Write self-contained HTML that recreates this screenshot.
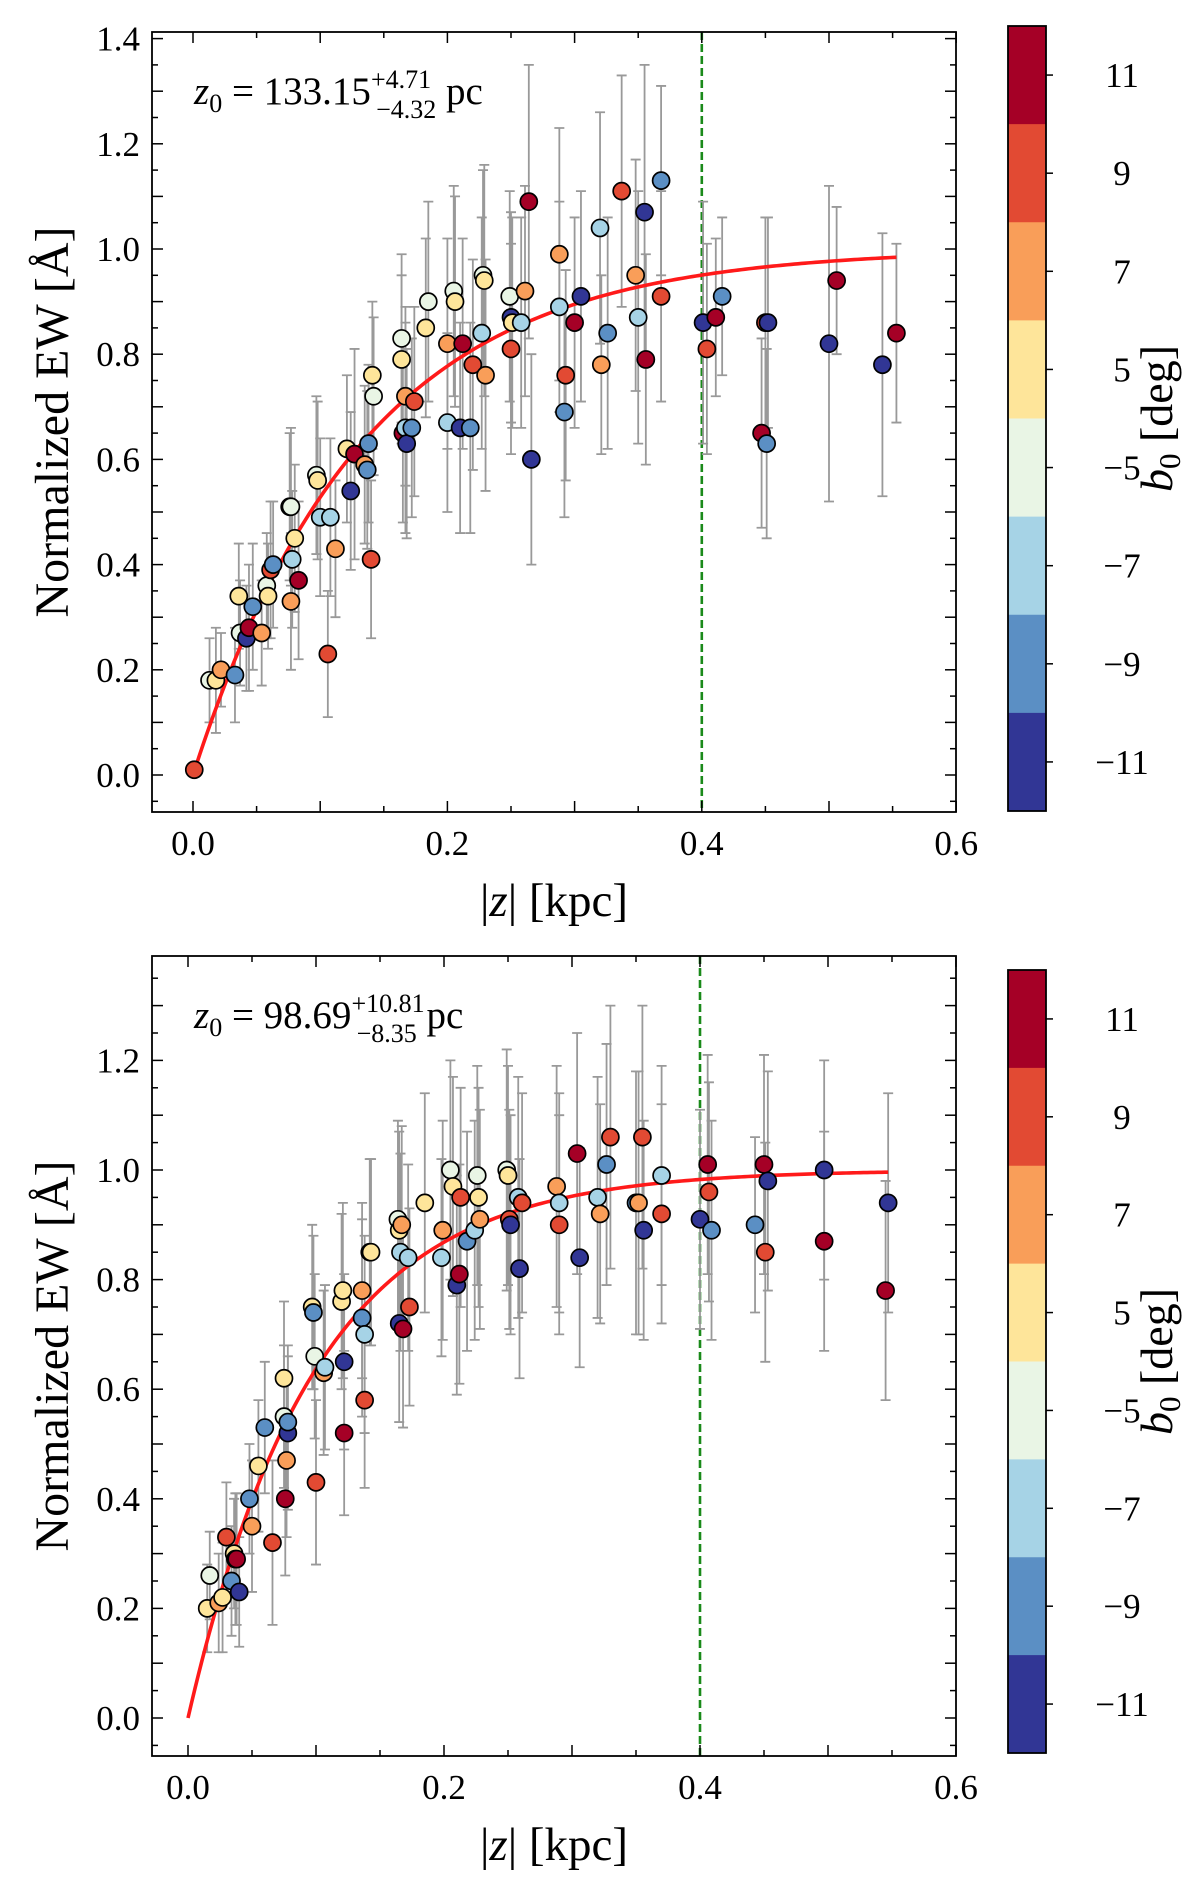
<!DOCTYPE html>
<html><head><meta charset="utf-8">
<style>
html,body{margin:0;padding:0;background:#fff;}
svg{display:block;font-family:"Liberation Serif",serif;}
</style></head>
<body>
<svg id="fig" width="1200" height="1877" viewBox="0 0 1200 1877" xmlns="http://www.w3.org/2000/svg"></svg>
<script>
// ---- data ----
const bLevels = [11, 9, 7, 5, -5, -7, -9, -11];
const bColors = ["#a50026", "#e24a33", "#f99e59", "#fee59a", "#e9f5e5", "#a6d3e6", "#5b8fc4", "#313695"];
const xTicks = [0.0, 0.2, 0.4, 0.6];
const yTicksTop = [0.0, 0.2, 0.4, 0.6, 0.8, 1.0, 1.2, 1.4];
const yTicksBot = [0.0, 0.2, 0.4, 0.6, 0.8, 1.0, 1.2];
const fitTop = {A: 1.0, z0: 0.13315, zmax: 0.553};
const fitBot = {A: 1.0, z0: 0.09869, zmax: 0.547};
const cutZ = 0.4;
// top panel: z, ew, err, b
const zTop   = [0.001,0.013,0.018,0.022,0.033,0.036,0.037,0.042,0.044,0.047,0.054,0.058,0.059,0.061,0.063,0.076,0.077,0.077,0.078,0.08,0.083,0.097,0.098,0.1,0.108,0.106,0.112,0.121,0.124,0.127,0.135,0.137,0.138,0.14,0.141,0.142,0.164,0.164,0.165,0.167,0.167,0.168,0.172,0.174,0.183,0.185,0.2,0.2,0.205,0.206,0.21,0.212,0.218,0.22,0.227,0.228,0.229,0.23,0.249,0.25,0.25,0.251,0.258,0.261,0.264,0.266,0.288,0.288,0.292,0.293,0.3,0.305,0.32,0.321,0.326,0.337,0.348,0.35,0.355,0.356,0.368,0.368,0.401,0.404,0.411,0.416,0.447,0.45,0.451,0.452,0.5,0.506,0.542,0.553];
const ewTop  = [0.01,0.18,0.18,0.20,0.19,0.34,0.27,0.26,0.28,0.32,0.27,0.36,0.34,0.39,0.40,0.51,0.51,0.33,0.41,0.45,0.37,0.57,0.56,0.49,0.49,0.23,0.43,0.62,0.54,0.61,0.59,0.58,0.63,0.41,0.76,0.72,0.83,0.79,0.65,0.72,0.66,0.63,0.66,0.71,0.85,0.90,0.67,0.82,0.92,0.90,0.66,0.82,0.66,0.78,0.84,0.95,0.94,0.76,0.91,0.87,0.81,0.86,0.86,0.92,1.09,0.60,0.99,0.89,0.69,0.76,0.86,0.91,1.04,0.78,0.84,1.11,0.95,0.87,1.07,0.79,1.13,0.91,0.86,0.81,0.87,0.91,0.65,0.86,0.63,0.86,0.82,0.94,0.78,0.84];
const errTop = [0,0.08,0.1,0.07,0.09,0.1,0.1,0.1,0.12,0.12,0.1,0.1,0.1,0.13,0.12,0.14,0.15,0.13,0.13,0.14,0.15,0.15,0.15,0.15,0.15,0.12,0.13,0.14,0.15,0.2,0.15,0.15,0.15,0.15,0.14,0.15,0.16,0.16,0.17,0.17,0.2,0.18,0.17,0.18,0.17,0.19,0.17,0.2,0.2,0.2,0.2,0.2,0.2,0.2,0.22,0.2,0.22,0.22,0.2,0.2,0.2,0.2,0.2,0.2,0.26,0.2,0.24,0.2,0.2,0.2,0.2,0.2,0.22,0.17,0.22,0.22,0.22,0.24,0.28,0.2,0.18,0.2,0.23,0.2,0.15,0.15,0.18,0.2,0.18,0.2,0.3,0.14,0.25,0.17];
const bTop   = [9,-5,5,7,-9,5,-5,-11,11,-9,7,-5,5,9,-9,-5,-5,7,-7,5,11,-5,5,-7,-7,9,7,5,-11,11,7,-9,-9,9,5,-5,-5,5,11,7,-7,-11,-9,9,5,-5,-7,7,-5,5,-11,11,-9,9,-7,-5,5,7,-5,-11,9,5,-7,7,11,-11,7,-7,-9,9,11,-11,-7,7,-9,9,7,-7,-11,11,-9,9,-11,9,11,-9,11,9,-9,-11,-11,11,-11,11];
// bottom panel
const zBot   = [0.015,0.017,0.024,0.027,0.03,0.034,0.036,0.037,0.038,0.04,0.048,0.05,0.055,0.06,0.066,0.075,0.075,0.076,0.077,0.078,0.078,0.097,0.098,0.099,0.1,0.106,0.107,0.12,0.121,0.122,0.122,0.136,0.136,0.138,0.138,0.142,0.143,0.164,0.165,0.165,0.166,0.167,0.168,0.172,0.173,0.185,0.198,0.199,0.205,0.207,0.21,0.212,0.213,0.218,0.224,0.226,0.227,0.228,0.249,0.25,0.251,0.252,0.258,0.259,0.261,0.288,0.29,0.29,0.304,0.306,0.32,0.322,0.327,0.33,0.35,0.352,0.355,0.356,0.37,0.37,0.4,0.406,0.407,0.409,0.443,0.45,0.451,0.453,0.497,0.497,0.545,0.547];
const ewBot  = [0.20,0.26,0.21,0.22,0.33,0.25,0.30,0.29,0.29,0.23,0.40,0.35,0.46,0.53,0.32,0.62,0.55,0.40,0.47,0.52,0.54,0.75,0.74,0.66,0.43,0.63,0.64,0.76,0.78,0.65,0.52,0.78,0.73,0.70,0.58,0.85,0.85,0.91,0.89,0.72,0.85,0.90,0.71,0.84,0.75,0.94,0.84,0.89,1.0,0.97,0.79,0.81,0.95,0.87,0.89,0.99,0.95,0.91,1.0,0.99,0.91,0.90,0.95,0.82,0.94,0.97,0.94,0.90,1.03,0.84,0.95,0.92,1.01,1.06,0.94,0.94,1.06,0.89,0.99,0.92,0.91,1.01,0.96,0.89,0.90,1.01,0.85,0.98,1.0,0.87,0.78,0.94];
const errBot = [0.08,0.08,0.09,0.1,0.1,0.1,0.1,0.12,0.12,0.1,0.1,0.12,0.12,0.12,0.15,0.14,0.13,0.14,0.14,0.14,0.14,0.15,0.14,0.15,0.15,0.15,0.15,0.16,0.16,0.16,0.15,0.16,0.18,0.18,0.16,0.17,0.17,0.18,0.18,0.18,0.18,0.18,0.18,0.17,0.18,0.2,0.18,0.2,0.2,0.2,0.2,0.2,0.2,0.2,0.2,0.2,0.2,0.2,0.22,0.2,0.2,0.2,0.22,0.2,0.2,0.22,0.2,0.2,0.22,0.2,0.22,0.2,0.22,0.24,0.24,0.24,0.24,0.2,0.2,0.2,0.2,0.2,0.2,0.2,0.16,0.2,0.2,0.2,0.2,0.2,0.2,0.2];
const bBot   = [5,-5,7,5,9,-9,5,-5,11,-11,-9,7,5,-9,9,5,-5,11,7,-11,-9,5,-9,-5,9,7,-7,5,5,-11,11,7,-9,-7,9,-5,5,-5,5,-11,-7,7,11,-7,9,5,-7,7,-5,5,-11,11,9,-9,-7,-5,5,7,-5,5,9,-11,-7,-11,9,7,-7,9,11,-11,-7,7,-9,9,-9,7,9,-11,-7,9,-11,11,9,-9,-9,11,9,-11,-11,11,11,-11];

const NS = "http://www.w3.org/2000/svg";
const svg = document.getElementById("fig");
function mk(tag, attrs, parent) {
  const e = document.createElementNS(NS, tag);
  for (const k in attrs) e.setAttribute(k, attrs[k]);
  (parent || svg).appendChild(e);
  return e;
}
function colorFor(b) { return bColors[bLevels.indexOf(b)]; }

function panel(cfg) {
  const g = mk("g", {});
  
  
  const L = 152, R = 956, T = cfg.top, B = cfg.bottom;
  const X = v => cfg.x0 + v / 0.2 * cfg.xs;
  const Y = v => cfg.y0 - v / 0.2 * cfg.ys;
  const cid = cfg.name + "-clip";
  const defs = mk("defs", {}, g);
  const cp = mk("clipPath", {id: cid}, defs);
  mk("rect", {x: L, y: T, width: R - L, height: B - T}, cp);
  const plot = mk("g", {"clip-path": "url(#" + cid + ")"}, g);
  const dl = mk("line", {x1: X(cutZ), x2: X(cutZ), y1: T, y2: B, stroke: "#1a8a1a", "stroke-width": 2.6, "stroke-dasharray": "8,4"}, plot);
  
  
  for (let i = 0; i < cfg.z.length; i++) {
    if (cfg.err[i] <= 0) continue;
    const x = X(cfg.z[i]), y1 = Y(cfg.ew[i] - cfg.err[i]), y2 = Y(cfg.ew[i] + cfg.err[i]);
    const eb = mk("path", {d: `M${x},${y1}V${y2}M${x-5},${y1}H${x+5}M${x-5},${y2}H${x+5}`, stroke: "#999", "stroke-width": 1.8, fill: "none"}, plot);
    
    
  }
  let d = "";
  for (let k = 0; k <= 200; k++) {
    const z = cfg.fit.zmax * k / 200;
    const v = cfg.fit.A * (1 - Math.exp(-z / cfg.fit.z0));
    d += (k ? "L" : "M") + X(z).toFixed(2) + "," + Y(v).toFixed(2);
  }
  const fc = mk("path", {d: d, stroke: "#ff1a1a", "stroke-width": 3.6, fill: "none"}, plot);
  
  
  for (let i = 0; i < cfg.z.length; i++) {
    const c = mk("circle", {cx: X(cfg.z[i]), cy: Y(cfg.ew[i]), r: 8.5, fill: colorFor(cfg.b[i]), stroke: "#000", "stroke-width": 1.7}, plot);
    
    
  }
  const fr = mk("rect", {x: L, y: T, width: R - L, height: B - T, fill: "none", stroke: "#000", "stroke-width": 1.8}, g);
  
  
  for (let v = 0; v <= 0.6001; v += 0.05) {
    const x = X(v), major = Math.abs(v * 10 - Math.round(v * 10)) < 1e-6;
    const len = major ? 11 : 6;
    mk("line", {x1: x, x2: x, y1: B, y2: B - len, stroke: "#000", "stroke-width": 1.5}, g);
    mk("line", {x1: x, x2: x, y1: T, y2: T + len, stroke: "#000", "stroke-width": 1.5}, g);
  }
  for (const v of xTicks) {
    const t = mk("text", {x: X(v), y: B + 43, "font-size": 35, "text-anchor": "middle"}, g);
    t.textContent = v.toFixed(1);
    
    
  }
  for (let v = -0.1; v <= 1.45; v += 0.05) {
    const y = Y(v);
    if (y < T || y > B) continue;
    const major = Math.abs(v * 10 - Math.round(v * 10)) < 1e-6;
    const len = major ? 11 : 6;
    mk("line", {x1: L, x2: L + len, y1: y, y2: y, stroke: "#000", "stroke-width": 1.5}, g);
    mk("line", {x1: R, x2: R - len, y1: y, y2: y, stroke: "#000", "stroke-width": 1.5}, g);
  }
  for (const v of cfg.yTicks) {
    const t = mk("text", {x: L - 12, y: Y(v) + 12, "font-size": 35, "text-anchor": "end"}, g);
    t.textContent = v.toFixed(1);
    
    
  }
  const xl = mk("text", {x: (L + R) / 2, y: B + 104, "font-size": 47, "text-anchor": "middle"}, g);
  xl.innerHTML = '|<tspan font-style="italic">z</tspan>| [kpc]';
  
  
  const yc = (T + B) / 2;
  const yl = mk("text", {x: 0, y: 0, "font-size": 48, "text-anchor": "middle", transform: `translate(68,${yc}) rotate(-90)`}, g);
  yl.textContent = "Normalized EW [Å]";
  
  
  const an = mk("text", {x: 194, y: T + 72, "font-size": 39}, g);
  an.innerHTML = '<tspan font-style="italic">z</tspan><tspan font-size="26" dy="8">0</tspan><tspan dy="-8"> = ' + cfg.val + '</tspan><tspan font-size="26" dy="-16">' + cfg.up + '</tspan><tspan font-size="26" dx="-' + cfg.upW + '" dy="30">' + cfg.dn + '</tspan><tspan dy="-14"> pc</tspan>';
  
  
  const cb = mk("g", {}, g);
  
  
  const cL = 1008, cW = 38, cT = cfg.cbTop, cH = cfg.cbBot - cfg.cbTop, h = cH / bLevels.length;
  bLevels.forEach((b, i) => {
    const r = mk("rect", {x: cL, y: cT + i * h, width: cW, height: h + 0.5, fill: bColors[i]}, cb);
    
    
    mk("line", {x1: cL + cW, x2: cL + cW + 7, y1: cT + (i + 0.5) * h, y2: cT + (i + 0.5) * h, stroke: "#000", "stroke-width": 1.5}, cb);
    const t = mk("text", {x: 1122, y: cT + (i + 0.5) * h + 12, "font-size": 35, "text-anchor": "middle"}, cb);
    t.textContent = b < 0 ? "\u2212" + Math.abs(b) : String(b);
    
    
  });
  mk("rect", {x: cL, y: cT, width: cW, height: cH, fill: "none", stroke: "#000", "stroke-width": 1.8}, cb);
  const ct = mk("text", {x: 0, y: 0, "font-size": 46, "text-anchor": "middle", transform: `translate(1172,${(cT + cfg.cbBot) / 2}) rotate(-90)`}, cb);
  ct.innerHTML = '<tspan font-style="italic">b</tspan><tspan font-size="31" dy="8">0</tspan><tspan dy="-8"> [deg]</tspan>';
  
  
}

panel({name: "top-panel", top: 32, bottom: 812, x0: 193, xs: 254.4, y0: 775, ys: 105.2,
  z: zTop, ew: ewTop, err: errTop, b: bTop, fit: fitTop, yTicks: yTicksTop,
  val: "133.15", up: "+4.71", dn: "\u22124.32", upW: 55, cbTop: 26, cbBot: 811});
panel({name: "bottom-panel", top: 956, bottom: 1756, x0: 188, xs: 256, y0: 1718, ys: 109.6,
  z: zBot, ew: ewBot, err: errBot, b: bBot, fit: fitBot, yTicks: yTicksBot,
  val: "98.69", up: "+10.81", dn: "\u22128.35", upW: 68, cbTop: 970, cbBot: 1753});
</script>
</body></html>
